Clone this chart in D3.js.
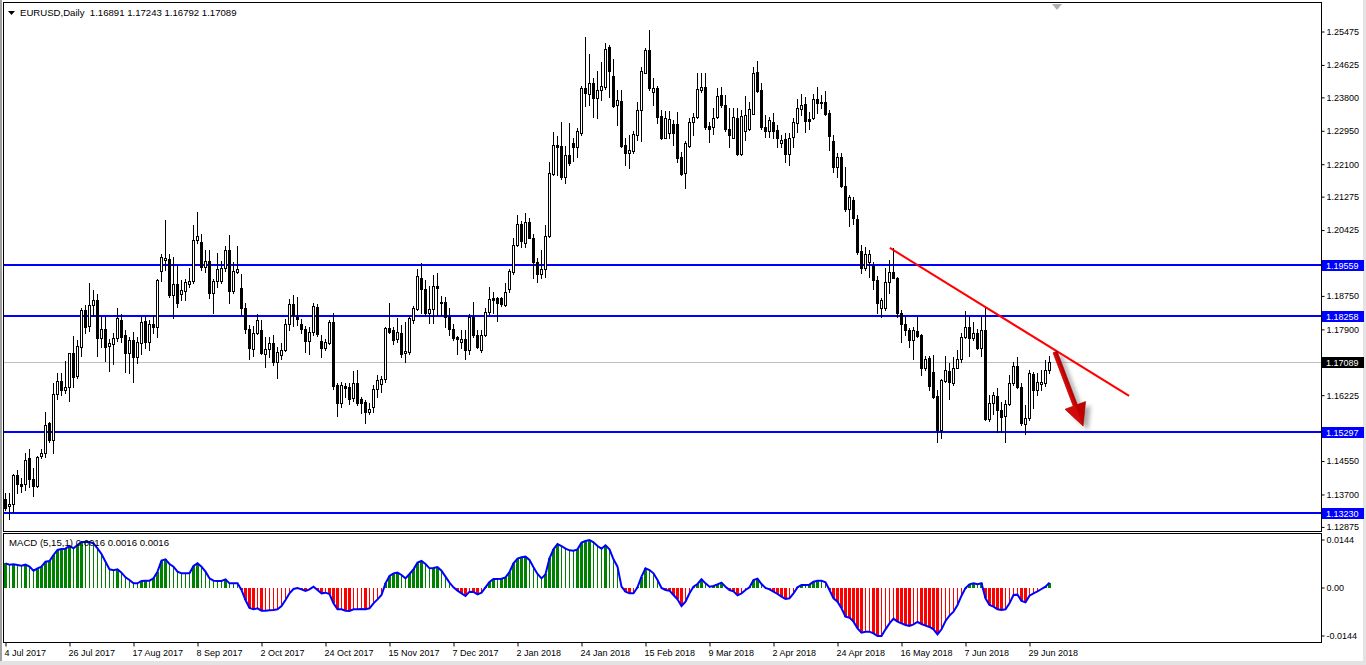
<!DOCTYPE html>
<html><head><meta charset="utf-8">
<script src="https://cdn.jsdelivr.net/npm/d3@7"></script>
<style>html,body{margin:0;padding:0;background:#fff;overflow:hidden}svg{display:block}text{font-family:"Liberation Sans",Arial,sans-serif;}</style>
</head><body><svg id="c" width="1366" height="665"></svg>
<script>
// ---- DATA (EURUSD Daily) ----
const opens=[1.1361,1.1343,1.1348,1.1420,1.1398,1.1397,1.1463,1.1410,1.1394,1.1470,
1.1476,1.1552,1.1511,1.1627,1.1659,1.1638,1.1644,1.1730,1.1673,1.1747,
1.1840,1.1800,1.1852,1.1866,1.1770,1.1792,1.1750,1.1753,1.1769,1.1815,
1.1777,1.1730,1.1764,1.1720,1.1756,1.1812,1.1758,1.1804,1.1796,1.1939,
1.1967,1.1970,1.1879,1.1907,1.1880,1.1889,1.1906,1.1913,1.2018,1.2013,
1.1950,1.1965,1.1883,1.1914,1.1914,1.1946,1.1993,1.1890,1.1938,1.1896,
1.1845,1.1791,1.1742,1.1781,1.1789,1.1729,1.1740,1.1756,1.1707,1.1725,
1.1739,1.1805,1.1855,1.1823,1.1806,1.1793,1.1762,1.1784,1.1847,1.1762,
1.1745,1.1756,1.1810,1.1650,1.1603,1.1647,1.1644,1.1616,1.1656,1.1613,
1.1606,1.1582,1.1593,1.1639,1.1651,1.1664,1.1795,1.1790,1.1767,1.1781,
1.1730,1.1734,1.1815,1.1844,1.1921,1.1893,1.1834,1.1842,1.1901,1.1857,
1.1862,1.1822,1.1791,1.1771,1.1760,1.1766,1.1739,1.1823,1.1777,1.1739,
1.1777,1.1836,1.1870,1.1870,1.1870,1.1853,1.1893,1.1938,1.2005,1.2059,
1.2012,1.2063,1.2024,1.1963,1.1933,1.1944,1.2028,1.2187,1.2260,1.2258,
1.2179,1.2235,1.2266,1.2256,1.2290,1.2406,1.2391,1.2419,1.2379,1.2400,
1.2408,1.2509,1.2436,1.2362,1.2372,1.2260,1.2241,1.2245,1.2285,1.2348,
1.2444,1.2502,1.2396,1.2406,1.2334,1.2279,1.2290,1.2314,1.2313,1.2230,
1.2189,1.2258,1.2318,1.2332,1.2400,1.2407,1.2308,1.2307,1.2331,1.2387,
1.2363,1.2300,1.2279,1.2330,1.2236,1.2296,1.2300,1.2340,1.2445,1.2400,
1.2305,1.2296,1.2318,1.2297,1.2264,1.2275,1.2236,1.2280,1.2315,1.2351,
1.2364,1.2326,1.2328,1.2376,1.2366,1.2369,1.2342,1.2270,1.2203,1.2229,
1.2157,1.2098,1.2120,1.2071,1.1990,1.1946,1.1963,1.1953,1.1918,1.1845,
1.1845,1.1912,1.1936,1.1923,1.1833,1.1804,1.1789,1.1764,1.1788,1.1776,
1.1692,1.1719,1.1683,1.1622,1.1535,1.1660,1.1685,1.1656,1.1694,1.1715,
1.1771,1.1796,1.1770,1.1781,1.1743,1.1789,1.1564,1.1603,1.1621,1.1586,
1.1571,1.1601,1.1654,1.1699,1.1644,1.1550,1.1565,1.1677,1.1637,1.1651,
1.1654,1.16891];
const highs=[1.1374,1.1374,1.1423,1.1433,1.1412,1.1477,1.1486,1.1438,1.1469,1.1488,
1.1582,1.1556,1.1656,1.1679,1.1681,1.1710,1.1732,1.1774,1.1764,1.1845,
1.1853,1.1910,1.1891,1.1880,1.1823,1.1823,1.1766,1.1783,1.1846,1.1831,
1.1790,1.1773,1.1785,1.1773,1.1823,1.1823,1.1815,1.1825,1.1920,1.1983,
1.2069,1.1982,1.1976,1.1955,1.1917,1.1919,1.1946,1.2057,1.2089,1.2035,
1.1993,1.1993,1.1920,1.1985,1.1966,1.2004,1.2031,1.1962,1.2003,1.1933,
1.1857,1.1802,1.1800,1.1831,1.1815,1.1773,1.1771,1.1777,1.1747,1.1756,
1.1817,1.1868,1.1879,1.1873,1.1817,1.1800,1.1796,1.1857,1.1856,1.1777,
1.1766,1.1815,1.1834,1.1656,1.1658,1.1656,1.1654,1.1686,1.1688,1.1620,
1.1611,1.1603,1.1650,1.1675,1.1672,1.1798,1.1859,1.1798,1.1819,1.1802,
1.1811,1.1823,1.1851,1.1944,1.1959,1.1917,1.1901,1.1929,1.1935,1.1876,
1.1874,1.1845,1.1806,1.1774,1.1790,1.1790,1.1829,1.1860,1.1790,1.1790,
1.1846,1.1898,1.1887,1.1874,1.1874,1.1910,1.1944,1.2023,1.2081,1.2066,
1.2086,1.2075,1.2035,1.1972,1.1992,1.2057,1.2218,1.2292,1.2284,1.2319,
1.2258,1.2315,1.2277,1.2304,1.2410,1.2535,1.2491,1.2430,1.2448,1.2472,
1.2519,1.2514,1.2480,1.2400,1.2400,1.2277,1.2285,1.2296,1.2370,1.2459,
1.2506,1.2553,1.2430,1.2410,1.2349,1.2346,1.2346,1.2324,1.2343,1.2243,
1.2270,1.2330,1.2341,1.2442,1.2442,1.2442,1.2319,1.2355,1.2406,1.2408,
1.2387,1.2355,1.2355,1.2353,1.2349,1.2385,1.2369,1.2459,1.2474,1.2417,
1.2336,1.2332,1.2341,1.2311,1.2285,1.2290,1.2290,1.2330,1.2376,1.2391,
1.2383,1.2345,1.2391,1.2408,1.2387,1.2398,1.2349,1.2285,1.2239,1.2239,
1.2205,1.2133,1.2129,1.2082,1.2006,1.2001,1.1993,1.1963,1.1927,1.1870,
1.1946,1.1967,1.1997,1.1925,1.1840,1.1823,1.1794,1.1796,1.1823,1.1779,
1.1723,1.1723,1.1725,1.1637,1.1666,1.1723,1.1705,1.1722,1.1739,1.1781,
1.1838,1.1823,1.1811,1.1791,1.1823,1.1847,1.1624,1.1633,1.1641,1.1607,
1.1611,1.1675,1.1709,1.1722,1.1654,1.1599,1.1688,1.1683,1.1679,1.1688,
1.1713,1.17243];
const lows=[1.1332,1.1310,1.1327,1.1374,1.1378,1.1382,1.1391,1.1367,1.1389,1.1463,
1.1467,1.1505,1.1476,1.1614,1.1624,1.1630,1.1610,1.1644,1.1668,1.1723,
1.1781,1.1788,1.1826,1.1724,1.1747,1.1711,1.1686,1.1702,1.1761,1.1760,
1.1683,1.1679,1.1658,1.1705,1.1728,1.1743,1.1739,1.1783,1.1771,1.1913,
1.1942,1.1873,1.1819,1.1847,1.1866,1.1866,1.1898,1.1908,1.2012,1.1942,
1.1938,1.1870,1.1834,1.1898,1.1908,1.1940,1.1857,1.1884,1.1935,1.1831,
1.1783,1.1715,1.1723,1.1779,1.1728,1.1695,1.1722,1.1700,1.1667,1.1715,
1.1737,1.1790,1.1800,1.1802,1.1781,1.1733,1.1728,1.1777,1.1775,1.1722,
1.1739,1.1754,1.1639,1.1572,1.1593,1.1620,1.1601,1.1610,1.1599,1.1578,
1.1552,1.1576,1.1582,1.1620,1.1633,1.1658,1.1781,1.1753,1.1760,1.1720,
1.1709,1.1728,1.1808,1.1840,1.1832,1.1828,1.1808,1.1808,1.1828,1.1828,
1.1798,1.1777,1.1764,1.1728,1.1743,1.1715,1.1728,1.1773,1.1745,1.1734,
1.1774,1.1830,1.1834,1.1813,1.1851,1.1851,1.1887,1.1932,1.2003,1.2000,
1.2001,1.2023,1.1921,1.1912,1.1921,1.1925,1.2026,1.2184,1.2184,1.2174,
1.2163,1.2209,1.2219,1.2230,1.2285,1.2359,1.2362,1.2332,1.2330,1.2374,
1.2402,1.2383,1.2358,1.2311,1.2256,1.2209,1.2202,1.2239,1.2273,1.2271,
1.2444,1.2400,1.2363,1.2317,1.2275,1.2277,1.2277,1.2260,1.2218,1.2184,
1.2151,1.2256,1.2285,1.2328,1.2396,1.2302,1.2268,1.2287,1.2330,1.2358,
1.2296,1.2256,1.2277,1.2235,1.2235,1.2273,1.2298,1.2339,1.2396,1.2301,
1.2281,1.2281,1.2279,1.2256,1.2256,1.2218,1.2209,1.2256,1.2294,1.2336,
1.2294,1.2302,1.2325,1.2341,1.2353,1.2336,1.2247,1.2192,1.2179,1.2154,
1.2093,1.2054,1.2059,1.1984,1.1935,1.1942,1.1925,1.1895,1.1834,1.1822,
1.1840,1.1883,1.1921,1.1822,1.1760,1.1777,1.1747,1.1715,1.1772,1.1675,
1.1688,1.1637,1.1616,1.1505,1.1516,1.1658,1.1613,1.1650,1.1692,1.1709,
1.1768,1.1723,1.1764,1.1740,1.1723,1.1560,1.1559,1.1577,1.1531,1.1531,
1.1505,1.1599,1.1650,1.1641,1.1548,1.1525,1.1560,1.1590,1.1624,1.1637,
1.1647,1.16792];
const closes=[1.1336,1.1347,1.1421,1.1397,1.1394,1.1460,1.1410,1.1393,1.1466,1.1476,
1.1549,1.1511,1.1628,1.1661,1.1638,1.1644,1.1730,1.1671,1.1749,1.1840,
1.1798,1.1852,1.1866,1.1768,1.1792,1.1747,1.1756,1.1769,1.1820,1.1773,
1.1730,1.1764,1.1720,1.1758,1.1810,1.1758,1.1805,1.1796,1.1918,1.1974,
1.1973,1.1879,1.1907,1.1859,1.1891,1.1911,1.1914,1.2018,1.2029,1.1949,
1.1964,1.1883,1.1914,1.1944,1.1948,1.1992,1.1888,1.1940,1.1945,1.1845,
1.1791,1.1743,1.1781,1.1815,1.1730,1.1740,1.1756,1.1707,1.1733,1.1739,
1.1805,1.1855,1.1828,1.1817,1.1793,1.1762,1.1784,1.1851,1.1779,1.1745,
1.1758,1.1810,1.1648,1.1603,1.1650,1.1641,1.1614,1.1656,1.1605,1.1605,
1.1581,1.1589,1.1639,1.1662,1.1665,1.1794,1.1785,1.1764,1.1784,1.1728,
1.1736,1.1819,1.1845,1.1927,1.1893,1.1834,1.1844,1.1901,1.1896,1.1862,
1.1822,1.1791,1.1768,1.1766,1.1766,1.1739,1.1822,1.1777,1.1747,1.1777,
1.1836,1.1868,1.1866,1.1857,1.1855,1.1885,1.1940,1.2005,1.2059,1.2015,
1.2063,1.2024,1.1962,1.1933,1.1944,1.2028,1.2190,1.2260,1.2255,1.2179,
1.2235,1.2215,1.2256,1.2296,1.2406,1.2393,1.2419,1.2379,1.2400,1.2410,
1.2504,1.2449,1.2360,1.2374,1.2258,1.2241,1.2247,1.2287,1.2348,1.2448,
1.2502,1.2406,1.2404,1.2332,1.2279,1.2328,1.2326,1.2290,1.2228,1.2187,
1.2264,1.2318,1.2332,1.2402,1.2408,1.2307,1.2302,1.2330,1.2385,1.2363,
1.2300,1.2285,1.2331,1.2237,1.2335,1.2336,1.2352,1.2442,1.2398,1.2305,
1.2296,1.2324,1.2296,1.2277,1.2274,1.2236,1.2277,1.2318,1.2353,1.2363,
1.2322,1.2322,1.2376,1.2366,1.2370,1.2339,1.2284,1.2205,1.2229,1.2157,
1.2098,1.2129,1.2075,1.1989,1.1946,1.1984,1.1984,1.1918,1.1859,1.1866,
1.1912,1.1938,1.1923,1.1833,1.1804,1.1789,1.1764,1.1789,1.1774,1.1694,
1.1717,1.1647,1.1620,1.1535,1.1662,1.1689,1.1658,1.1694,1.1717,1.1772,
1.1796,1.1768,1.1781,1.1743,1.1789,1.1562,1.1603,1.1624,1.1586,1.1569,
1.1601,1.1654,1.1698,1.1644,1.1552,1.1567,1.1679,1.1637,1.1657,1.1657,
1.1688,1.17089];
const macdValues=[.0074,.0070,.0071,.0069,.0067,.0070,.0064,.0052,.0059,.0064,
.0079,.0081,.0099,.0114,.0117,.0118,.0126,.0119,.0129,.0138,
.0138,.0138,.0134,.0119,.0102,.0079,.0056,.0053,.0056,.0046,
.0032,.0024,.0014,.0014,.0021,.0022,.0022,.0029,.0049,.0082,
.0086,.0072,.0064,.0049,.0044,.0044,.0044,.0066,.0074,.0064,
.0049,.0029,.0022,.0021,.0021,.0026,.0014,.0014,.0014,-.0006,
-.0036,-.0060,-.0064,-.0061,-.0068,-.0068,-.0067,-.0066,-.0064,-.0054,
-.0036,-.0016,-.0003,.0000,-.0004,-.0009,-.0004,.0004,-.0006,-.0016,
-.0014,-.0018,-.0046,-.0064,-.0064,-.0068,-.0069,-.0064,-.0064,-.0063,
-.0064,-.0061,-.0046,-.0034,-.0021,.0014,.0036,.0044,.0046,.0039,
.0029,.0042,.0056,.0076,.0081,.0072,.0059,.0060,.0063,.0052,
.0034,.0016,.0002,-.0008,-.0016,-.0024,-.0011,-.0012,-.0019,-.0014,
.0002,.0018,.0027,.0027,.0028,.0032,.0048,.0074,.0088,.0092,
.0094,.0084,.0062,.0042,.0029,.0041,.0089,.0116,.0132,.0126,
.0118,.0113,.0112,.0116,.0136,.0141,.0144,.0137,.0126,.0118,
.0128,.0116,.0086,.0064,.0004,-.0011,-.0016,-.0016,.0002,.0034,
.0059,.0054,.0044,.0024,.0000,-.0006,-.0008,-.0021,-.0034,-.0054,
-.0041,-.0016,.0004,.0012,.0026,.0014,.0004,.0006,.0011,.0016,
.0004,-.0006,-.0010,-.0022,-.0016,-.0006,.0002,.0024,.0028,.0012,
.0000,-.0004,-.0011,-.0018,-.0026,-.0033,-.0031,-.0016,.0002,.0009,
.0009,.0010,.0019,.0022,.0022,.0017,-.0006,-.0031,-.0041,-.0061,
-.0086,-.0089,-.0101,-.0121,-.0134,-.0131,-.0131,-.0136,-.0144,-.0144,
-.0124,-.0106,-.0092,-.0101,-.0106,-.0111,-.0114,-.0109,-.0102,-.0108,
-.0113,-.0117,-.0124,-.0139,-.0124,-.0099,-.0083,-.0071,-.0051,-.0023,
.0000,.0011,.0014,.0011,.0014,-.0031,-.0051,-.0056,-.0064,-.0066,
-.0064,-.0046,-.0021,-.0020,-.0039,-.0043,-.0023,-.0016,-.0010,-.0003,
.0004,.0016];
const dateLabels=["4 Jul 2017","26 Jul 2017","17 Aug 2017","8 Sep 2017","2 Oct 2017","24 Oct 2017","15 Nov 2017","7 Dec 2017","2 Jan 2018","24 Jan 2018","15 Feb 2018","9 Mar 2018","2 Apr 2018","24 Apr 2018","16 May 2018","7 Jun 2018","29 Jun 2018"];
const dateLabelBars=[0,16,32,48,64,80,96,112,128,144,160,176,192,208,224,240,256];
const priceTicks=[1.25475,1.24625,1.23800,1.22950,1.22100,1.21275,1.20425,1.18750,1.17900,1.16225,1.14550,1.13700,1.12875];
const levelLines=[1.19559,1.18258,1.15297,1.13230];
const lastPrice=1.17089;
const macdTicks=[0.0144,0,-0.0144];
const macdTickLabels=["0.0144","0.00","-0.0144"];
const trendLine=[[221.1,1.19982],[280.9,1.16218]];   // [bar, price]
const arrowPts=[[262.4,1.17337],[269.4,1.15455]];
const titleText="EURUSD,Daily  1.16891 1.17243 1.16792 1.17089";
const macdTitle="MACD (5,15,1) 0.0016 0.0016 0.0016";

// ---- LAYOUT ----
const L=3, R=1321, T=2, MB=531, MT=533, B=642;
const svg=d3.select("#c");
const x=d3.scaleLinear().domain([-0.5,328.5]).range([3.5,1319.5]);
const y=d3.scaleLinear().domain([1.12875,1.25475]).range([527.4,32]);
const ym=d3.scaleLinear().domain([-0.0144,0.0144]).range([636,540]);
const FONT="9px", TFONT="9.6px";

const defs=svg.append("defs");
defs.append("clipPath").attr("id","cm").append("rect").attr("x",L).attr("y",T).attr("width",R-L).attr("height",MB-T);
defs.append("clipPath").attr("id","cd").append("rect").attr("x",L).attr("y",MT).attr("width",R-L).attr("height",B-MT);
const blur=defs.append("filter").attr("id","sh").attr("x","-50%").attr("y","-50%").attr("width","200%").attr("height","200%");
blur.append("feGaussianBlur").attr("stdDeviation",2.2);

// window edges
svg.append("rect").attr("x",0).attr("y",0).attr("width",1366).attr("height",665).attr("fill","#fff");
svg.append("rect").attr("x",0).attr("y",0).attr("width",2).attr("height",665).attr("fill","#a0a0a0");
svg.append("rect").attr("x",1363).attr("y",0).attr("width",3).attr("height",665).attr("fill","#e3e3e3");
svg.append("rect").attr("x",0).attr("y",661).attr("width",1366).attr("height",4).attr("fill","#e3e3e3");

// main panel
const gm=svg.append("g").attr("clip-path","url(#cm)");
gm.append("line").attr("x1",L).attr("x2",R).attr("y1",Math.round(y(lastPrice))+0.5).attr("y2",Math.round(y(lastPrice))+0.5).attr("stroke","#c0c0c0");
gm.selectAll("line.lvl").data(levelLines).enter().append("line").attr("class","lvl")
  .attr("x1",L).attr("x2",R).attr("y1",d=>Math.round(y(d))).attr("y2",d=>Math.round(y(d)))
  .attr("stroke","#0000ff").attr("stroke-width",2);

const idx=d3.range(closes.length);
const cg=gm.append("g");
idx.forEach(i=>{
  const cx=Math.floor(x(i))+0.5;
  const o=opens[i],h=highs[i],l=lows[i],c=closes[i];
  cg.append("line").attr("x1",cx).attr("x2",cx).attr("y1",Math.round(y(h))).attr("y2",Math.round(y(l))+1).attr("stroke","#000");
  if(c>=o){
    const yt=Math.round(y(c)), yb=Math.round(y(o));
    cg.append("rect").attr("x",cx-1).attr("y",yt+0.5).attr("width",2).attr("height",Math.max(yb-yt,0))
      .attr("fill","#fff").attr("stroke","#000");
  } else {
    const yt=Math.round(y(o)), yb=Math.round(y(c));
    cg.append("rect").attr("x",cx-1.5).attr("y",yt).attr("width",3).attr("height",Math.max(yb-yt,1)+1).attr("fill","#000");
  }
});

// trend line
gm.append("line").attr("x1",x(trendLine[0][0])).attr("y1",y(trendLine[0][1]))
  .attr("x2",x(trendLine[1][0])).attr("y2",y(trendLine[1][1])).attr("stroke","#ff0000").attr("stroke-width",2);

// arrow
(function(){
  const p0=[x(arrowPts[0][0]),y(arrowPts[0][1])], p1=[x(arrowPts[1][0]),y(arrowPts[1][1])];
  const dx=p1[0]-p0[0], dy=p1[1]-p0[1], len=Math.hypot(dx,dy);
  const u=[dx/len,dy/len], n=[-u[1],u[0]];
  const hl=22, hw=11, sw=2.2;
  const b=[p1[0]-u[0]*hl,p1[1]-u[1]*hl];
  const pt=(p,k)=>[p[0]+n[0]*k,p[1]+n[1]*k];
  const poly=[pt(p0,sw),pt(b,sw),pt(b,hw),p1,pt(b,-hw),pt(b,-sw),pt(p0,-sw)];
  gm.append("polygon").attr("points",poly.map(p=>[p[0]+5,p[1]+4].join(",")).join(" "))
    .attr("fill","#888").attr("opacity",0.7).attr("filter","url(#sh)");
  gm.append("polygon").attr("points",poly.map(p=>p.join(",")).join(" ")).attr("fill","#c00000").attr("stroke","#a00000").attr("stroke-width",0.6);
  const half=[pt(p0,0),pt(b,0),p1,pt(b,hw),pt(b,sw),pt(p0,sw)];
  gm.append("polygon").attr("points",half.map(p=>p.join(",")).join(" ")).attr("fill","#e01010").attr("opacity",0.6);
})();

// MACD panel
const gd=svg.append("g").attr("clip-path","url(#cd)");
idx.forEach(i=>{
  const v=macdValues[i], pv=i>0?macdValues[i-1]:v;
  const thick = i===0 ? true : (v>=0 ? v>pv : v<pv);
  const cx=Math.floor(x(i))+0.5;
  const y0=ym(0), y1=ym(v);
  const w=thick?3:1;
  gd.append("rect").attr("x",cx-w/2).attr("width",w)
    .attr("y",Math.round(Math.min(y0,y1))).attr("height",Math.max(Math.round(Math.abs(y1-y0)),1))
    .attr("fill",v>=0?"#008000":"#ff0000");
});
gd.append("path").datum(idx).attr("fill","none").attr("stroke","#0000ff").attr("stroke-width",2)
  .attr("d",d3.line().x(i=>Math.floor(x(i))+0.5).y(i=>ym(macdValues[i])));

// frames
svg.append("rect").attr("x",L+0.5).attr("y",T+0.5).attr("width",R-L).attr("height",MB-T).attr("fill","none").attr("stroke","#000");
svg.append("rect").attr("x",L+0.5).attr("y",MT+0.5).attr("width",R-L).attr("height",B-MT).attr("fill","none").attr("stroke","#000");

// price axis
const ax=d3.axisRight(y).tickValues(priceTicks).tickSize(3).tickPadding(2).tickFormat(d3.format(".5f")).offset(0);
const ga=svg.append("g").attr("transform",`translate(${R+0.5},0)`).call(ax);
ga.select(".domain").remove();
ga.selectAll("text").attr("font-size",FONT).attr("fill","#000").style("font-family","'Liberation Sans',Arial,sans-serif");
ga.selectAll("line").attr("stroke","#000");

// price label boxes
const boxes=levelLines.map(v=>({v,bg:"#0000ff"})).concat([{v:lastPrice,bg:"#000"}]);
const gb=svg.append("g");
boxes.forEach(bx=>{
  const yy=Math.round(y(bx.v));
  gb.append("rect").attr("x",R+1).attr("y",yy-5).attr("width",42).attr("height",11).attr("fill",bx.bg);
  gb.append("text").attr("x",R+5).attr("y",yy+3.5).attr("font-size",FONT).attr("fill","#fff").text(d3.format(".5f")(bx.v));
});

// macd axis
const axm=d3.axisRight(ym).tickValues(macdTicks).tickSize(3).tickPadding(2).tickFormat((d,i)=>macdTickLabels[i]).offset(0);
const gam=svg.append("g").attr("transform",`translate(${R+0.5},0)`).call(axm);
gam.select(".domain").remove();
gam.selectAll("text").attr("font-size",FONT).style("font-family","'Liberation Sans',Arial,sans-serif");

// time axis
const axb=d3.axisBottom(x).tickValues(dateLabelBars).tickSize(4).tickPadding(3).tickFormat((d,i)=>dateLabels[i]).offset(0);
const gx=svg.append("g").attr("transform",`translate(0,${B+0.5})`).call(axb);
gx.select(".domain").remove();
gx.selectAll(".tick line").attr("transform","translate(0.5,0)");
gx.selectAll("text").attr("text-anchor","start").attr("x",-1).attr("font-size",FONT).style("font-family","'Liberation Sans',Arial,sans-serif");

// titles
svg.append("path").attr("d","M8,11 L15,11 L11.5,15 Z").attr("fill","#000");
svg.append("text").attr("x",20).attr("y",16).attr("font-size",TFONT).attr("fill","#000").attr("xml:space","preserve").style("white-space","pre").text(titleText);
svg.append("text").attr("x",9).attr("y",546).attr("font-size",TFONT).attr("fill","#000").text(macdTitle);
// chart-shift marker
svg.append("path").attr("d","M1052,4 L1062,4 L1057,10 Z").attr("fill","#b0b0b0");
</script>
</body></html>
